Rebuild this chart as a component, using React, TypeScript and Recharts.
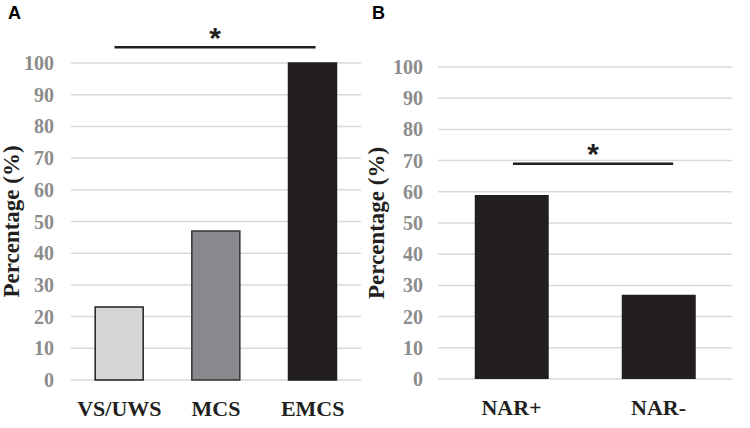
import { BarChart, Bar, Cell, XAxis, YAxis, CartesianGrid, ReferenceLine } from 'recharts'

// panel A: percentage by diagnosis
const diagnoses = ['VS/UWS', 'MCS', 'EMCS']
const diagnosisPct = [23, 47, 100]
const diagnosisFill = ['#d4d5d7', '#88898c', '#231f20']
const diagnosisStroke = ['#231f20', '#333333', '#231f20']

// panel B: percentage by NAR
const narGroups = ['NAR+', 'NAR-']
const narPct = [59, 27]

const yTicks = [0, 10, 20, 30, 40, 50, 60, 70, 80, 90, 100]

// significance brackets (x on a hidden 0..n axis, y in %)
const sigA = { from: 0.45, to: 2.53, y: 105 }
const sigB = { from: 0.51, to: 1.6, y: 69 }

const dataA = diagnoses.map((name, i) => ({ name, value: diagnosisPct[i] }))
const dataB = narGroups.map((name, i) => ({ name, value: narPct[i] }))

const serif = '"Liberation Serif", "Times New Roman", serif'
const sans = '"Liberation Sans", Arial, sans-serif'

// y tick: grey bold serif, right aligned
const YTick = ({ x, y, payload }: any) => (
  <text x={x} y={y} textAnchor="end" dominantBaseline="central"
    style={{ fontFamily: serif, fontWeight: 700, fontSize: 20, fill: '#8c8c8c' }}>
    {payload.value}
  </text>
)

// x tick: black bold serif
const XTick = ({ x, y, payload }: any) => (
  <text x={x} y={y} textAnchor="middle" dy={16}
    style={{ fontFamily: serif, fontWeight: 700, fontSize: 22, fill: '#231f20' }}>
    {payload.value}
  </text>
)

function yLabel(cx: number) {
  return ({ viewBox }: any) => {
    const cy = viewBox.y + viewBox.height / 2
    return (
      <text
        x={cx}
        y={cy}
        transform={`rotate(-90 ${cx} ${cy})`}
        textAnchor="middle"
        dominantBaseline="central"
        style={{ fontFamily: serif, fontWeight: 700, fontSize: 23, fill: '#231f20' }}
      >
        Percentage (%)
      </text>
    )
  }
}

const starLabel = {
  value: '*',
  position: 'center' as const,
  dy: -10,
  style: { fontFamily: sans, fontWeight: 700, fontSize: 30, fill: '#231f20' },
}

const letter = { position: 'absolute' as const, top: 4, fontFamily: sans, fontWeight: 700, fontSize: 18, lineHeight: '18px' }

export default function App() {
  return (
    <div style={{ position: 'absolute', left: 0, top: 0, width: 750, height: 428, background: '#fff', overflow: 'hidden' }}>
      <div style={{ position: 'absolute', left: 0, top: 0 }}>
        <BarChart width={375} height={428} data={dataA} margin={{ top: 63, right: 14, left: 0, bottom: 18 }} barCategoryGap="25%">
          <CartesianGrid vertical={false} stroke="#d9d9d9" strokeWidth={1.5} />
          <XAxis dataKey="name" axisLine={false} tickLine={false} tickSize={6} tickMargin={14} height={30} tick={<XTick />} interval={0} />
          <XAxis xAxisId="sig" dataKey="value" type="number" domain={[0, 3]} allowDataOverflow hide />
          <YAxis
            width={71}
            domain={[0, 100]}
            ticks={yTicks}
            axisLine={false}
            tickLine={false}
            tickSize={6}
            tickMargin={11}
            tick={<YTick />}
            label={{ content: yLabel(11) }}
          />
          <Bar dataKey="value" isAnimationActive={false} strokeWidth={1.5}>
            {dataA.map((d, i) => (
              <Cell key={d.name} fill={diagnosisFill[i]} stroke={diagnosisStroke[i]} />
            ))}
          </Bar>
          <ReferenceLine
            xAxisId="sig"
            segment={[{ x: sigA.from, y: sigA.y }, { x: sigA.to, y: sigA.y }]}
            stroke="#231f20"
            strokeWidth={2.5}
            ifOverflow="visible"
            label={starLabel}
          />
        </BarChart>
      </div>

      <div style={{ position: 'absolute', left: 355, top: 0 }}>
        <BarChart width={395} height={428} data={dataB} margin={{ top: 67, right: 18, left: 0, bottom: 19 }} barCategoryGap="25%">
          <CartesianGrid vertical={false} stroke="#d9d9d9" strokeWidth={1.5} />
          <XAxis dataKey="name" axisLine={false} tickLine={false} tickSize={6} tickMargin={14} height={30} tick={<XTick />} interval={0} />
          <XAxis xAxisId="sig" dataKey="value" type="number" domain={[0, 2]} allowDataOverflow hide />
          <YAxis
            width={83}
            domain={[0, 100]}
            ticks={yTicks}
            axisLine={false}
            tickLine={false}
            tickSize={6}
            tickMargin={9}
            tick={<YTick />}
            label={{ content: yLabel(21) }}
          />
          <Bar dataKey="value" isAnimationActive={false} fill="#231f20" />
          <ReferenceLine
            xAxisId="sig"
            segment={[{ x: sigB.from, y: sigB.y }, { x: sigB.to, y: sigB.y }]}
            stroke="#231f20"
            strokeWidth={2.5}
            ifOverflow="visible"
            label={starLabel}
          />
        </BarChart>
      </div>

      <div style={{ ...letter, left: 8 }}>A</div>
      <div style={{ ...letter, left: 372 }}>B</div>
    </div>
  )
}
